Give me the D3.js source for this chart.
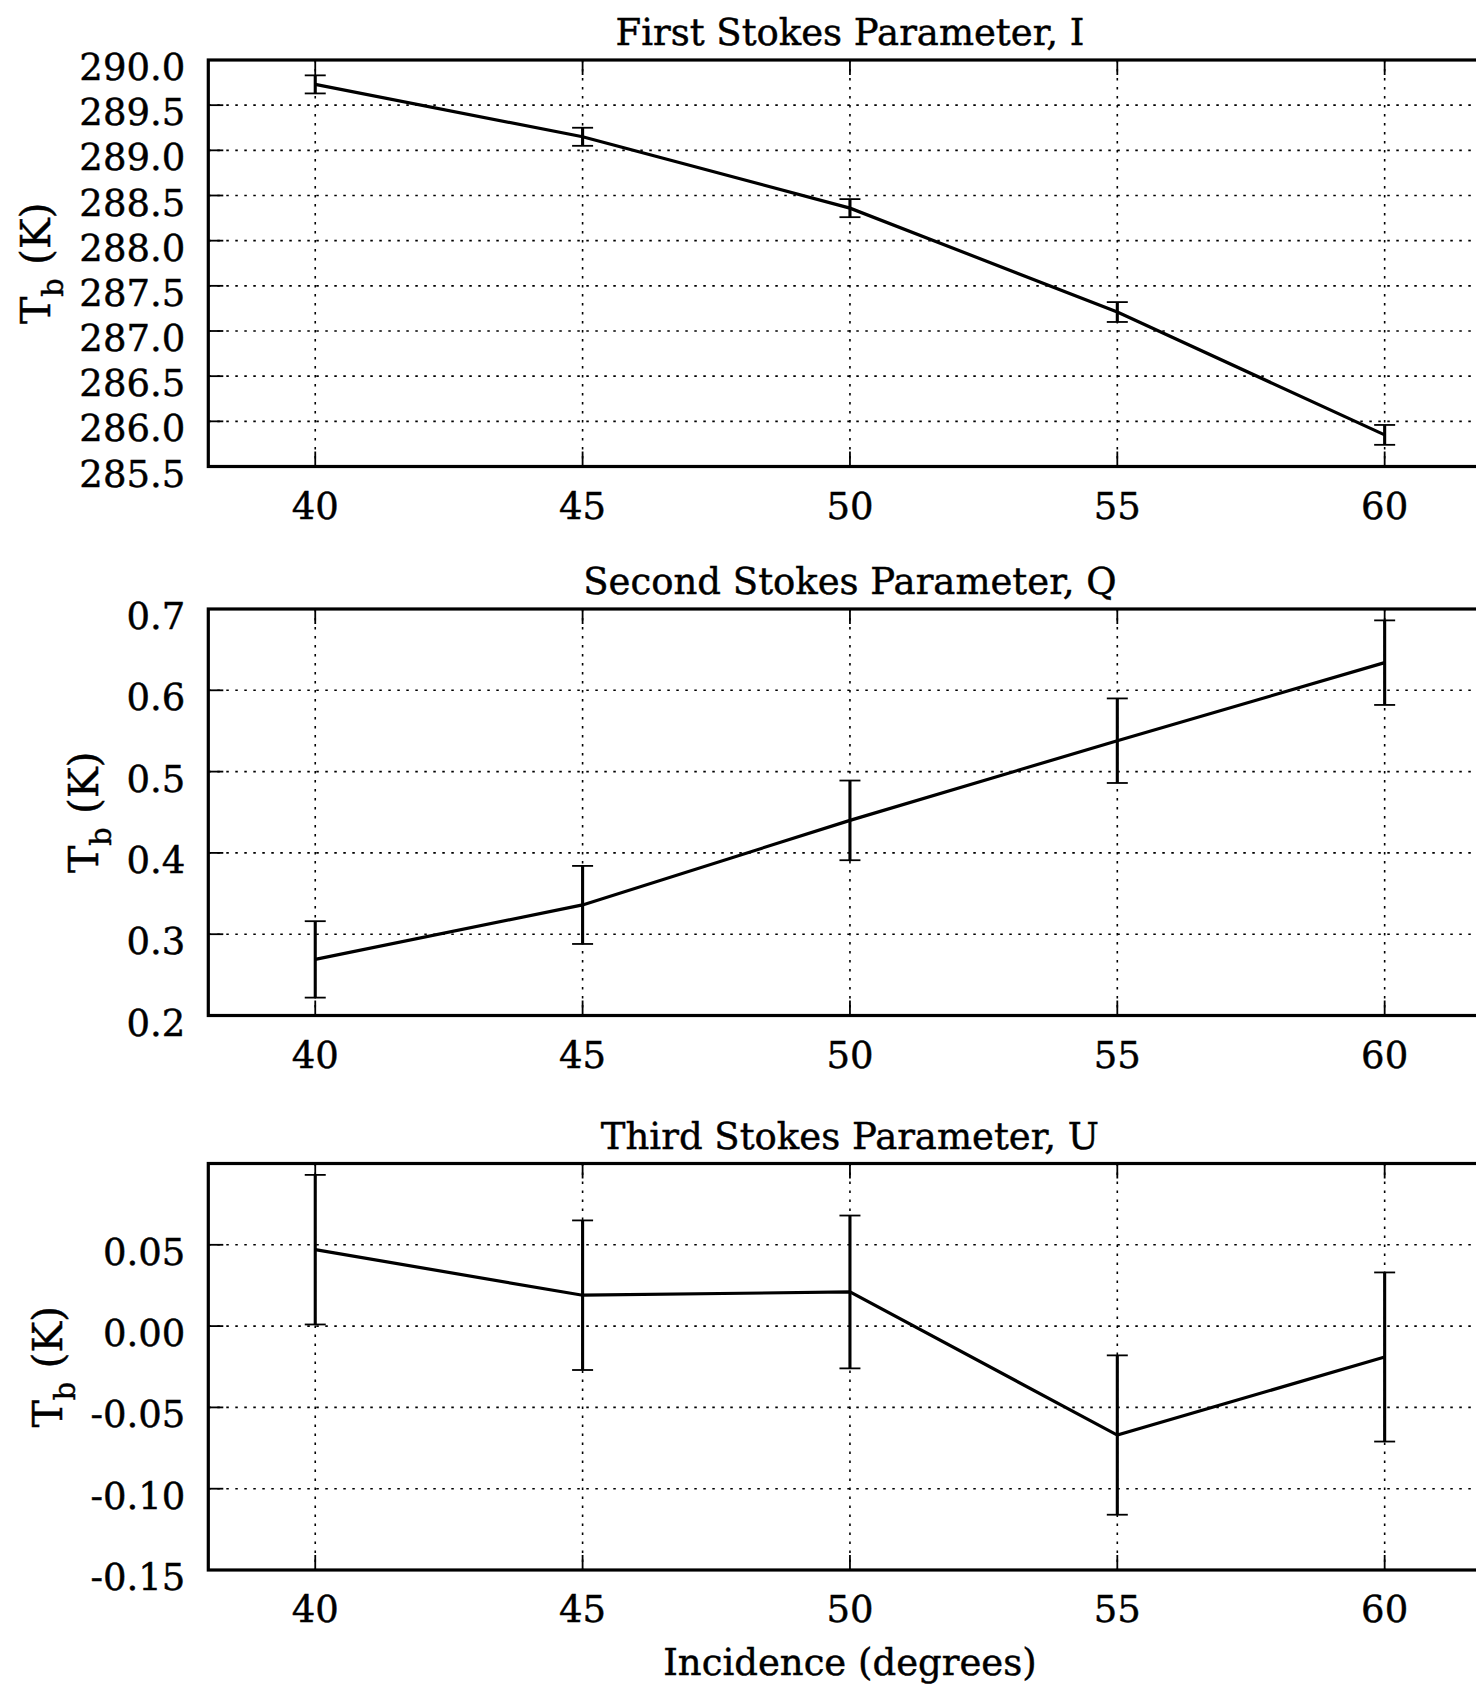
<!DOCTYPE html>
<html>
<head>
<meta charset="utf-8">
<script src="https://cdn.jsdelivr.net/npm/d3@7"></script>
<style>
  html, body { margin: 0; padding: 0; background: #fff; }
  svg { display: block; font-family: "DejaVu Serif", serif; }
  svg text { stroke: #000; stroke-width: 0.45px; fill: #000; }
</style>
</head>
<body>
<svg id="fig" width="1476" height="1686"></svg>
<script>
// Incidence angles (degrees)
const incidence = [40, 45, 50, 55, 60];

// Stokes parameters of brightness temperature (K) with 1-sigma errors
const stokesI    = [289.73, 289.15, 288.36, 287.21, 285.85];
const stokesIErr = [0.10, 0.10, 0.10, 0.11, 0.11];
const stokesQ    = [0.269, 0.336, 0.440, 0.538, 0.634];
const stokesQErr = [0.047, 0.048, 0.049, 0.052, 0.052];
const stokesU    = [0.047, 0.019, 0.021, -0.067, -0.019];
const stokesUErr = [0.046, 0.046, 0.047, 0.049, 0.052];

// Axis ticks
const xTicks  = [40, 45, 50, 55, 60];
const iTicks  = [285.5, 286.0, 286.5, 287.0, 287.5, 288.0, 288.5, 289.0, 289.5, 290.0];
const qTicks  = [0.2, 0.3, 0.4, 0.5, 0.6, 0.7];
const uTicks  = [-0.15, -0.10, -0.05, 0.00, 0.05];

const titles = ["First Stokes Parameter, I", "Second Stokes Parameter, Q", "Third Stokes Parameter, U"];

const panels = [
  { title: titles[0], values: stokesI, errs: stokesIErr, ticks: iTicks, domain: [285.5, 290.0], fmt: d3.format(".1f"), top: 60,   ylabelX: 50 },
  { title: titles[1], values: stokesQ, errs: stokesQErr, ticks: qTicks, domain: [0.2, 0.7],     fmt: d3.format(".1f"), top: 609,  ylabelX: 98 },
  { title: titles[2], values: stokesU, errs: stokesUErr, ticks: uTicks, domain: [-0.15, 0.10],  fmt: v => d3.format(".2f")(v).replace("\u2212", "-"), top: 1163.5, ylabelX: 62 }
];

const svg = d3.select("#fig");
const left = 208.3, right = 1491.6, panelH = 406.5;
const x = d3.scaleLinear().domain([38, 62]).range([left, right]);
const tickLen = 15;
const fontSize = 37;

panels.forEach((p, pi) => {
  const top = p.top, bottom = top + panelH;
  const y = d3.scaleLinear().domain(p.domain).range([bottom, top]);
  const g = svg.append("g");

  // dotted grid
  g.append("g").selectAll("line").data(xTicks).join("line")
    .attr("x1", d => x(d)).attr("x2", d => x(d))
    .attr("y1", top).attr("y2", bottom)
    .attr("stroke", "#000").attr("stroke-width", 1.6).attr("stroke-dasharray", "2.5,6.5");
  g.append("g").selectAll("line").data(p.ticks).join("line")
    .attr("x1", left).attr("x2", right)
    .attr("y1", d => y(d)).attr("y2", d => y(d))
    .attr("stroke", "#000").attr("stroke-width", 1.6).attr("stroke-dasharray", "2.5,6.5");

  // inward tick marks
  g.append("g").selectAll("line").data(xTicks).join("line")
    .attr("x1", d => x(d)).attr("x2", d => x(d))
    .attr("y1", bottom).attr("y2", bottom - tickLen)
    .attr("stroke", "#000").attr("stroke-width", 1.8);
  g.append("g").selectAll("line").data(xTicks).join("line")
    .attr("x1", d => x(d)).attr("x2", d => x(d))
    .attr("y1", top).attr("y2", top + tickLen)
    .attr("stroke", "#000").attr("stroke-width", 1.8);
  g.append("g").selectAll("line").data(p.ticks).join("line")
    .attr("x1", left).attr("x2", left + tickLen)
    .attr("y1", d => y(d)).attr("y2", d => y(d))
    .attr("stroke", "#000").attr("stroke-width", 1.8);

  // frame
  g.append("rect")
    .attr("x", left).attr("y", top)
    .attr("width", right - left).attr("height", panelH)
    .attr("fill", "none").attr("stroke", "#000").attr("stroke-width", 3.2);

  // tick labels
  g.append("g").selectAll("text").data(xTicks).join("text")
    .attr("x", d => x(d)).attr("y", bottom + 52)
    .attr("text-anchor", "middle").attr("font-size", fontSize)
    .text(d => d);
  g.append("g").selectAll("text").data(p.ticks).join("text")
    .attr("x", left - 23).attr("y", d => y(d) + 20)
    .attr("text-anchor", "end").attr("font-size", fontSize)
    .text(d => p.fmt(d));

  // title
  g.append("text")
    .attr("x", (left + right) / 2).attr("y", top - 15)
    .attr("text-anchor", "middle").attr("font-size", fontSize)
    .text(p.title);

  // y label: T_b (K)
  const yl = g.append("text")
    .attr("transform", `translate(${p.ylabelX},${(top + bottom) / 2}) rotate(-90)`)
    .attr("text-anchor", "middle").attr("font-size", 41);
  yl.append("tspan").text("T");
  yl.append("tspan").attr("font-size", 29).attr("dy", 13).text("b");
  yl.append("tspan").attr("dy", -13).text(" (K)");

  // error bars
  const eb = g.append("g").selectAll("g").data(incidence.map((d, i) => ({ x: d, v: p.values[i], e: p.errs[i] }))).join("g");
  eb.append("line")
    .attr("x1", d => x(d.x)).attr("x2", d => x(d.x))
    .attr("y1", d => y(d.v - d.e)).attr("y2", d => y(d.v + d.e))
    .attr("stroke", "#000").attr("stroke-width", 3.1);
  [-1, 1].forEach(s => {
    eb.append("line")
      .attr("x1", d => x(d.x) - 10.5).attr("x2", d => x(d.x) + 10.5)
      .attr("y1", d => y(d.v + s * d.e)).attr("y2", d => y(d.v + s * d.e))
      .attr("stroke", "#000").attr("stroke-width", 1.8);
  });

  // data line
  g.append("path")
    .datum(incidence.map((d, i) => [d, p.values[i]]))
    .attr("d", d3.line().x(d => x(d[0])).y(d => y(d[1])))
    .attr("fill", "none").attr("stroke", "#000").attr("stroke-width", 3.2)
    .attr("stroke-linejoin", "miter");
});

// shared x label
svg.append("text")
  .attr("x", (left + right) / 2).attr("y", 1675)
  .attr("text-anchor", "middle").attr("font-size", fontSize)
  .text("Incidence (degrees)");
</script>
</body>
</html>
